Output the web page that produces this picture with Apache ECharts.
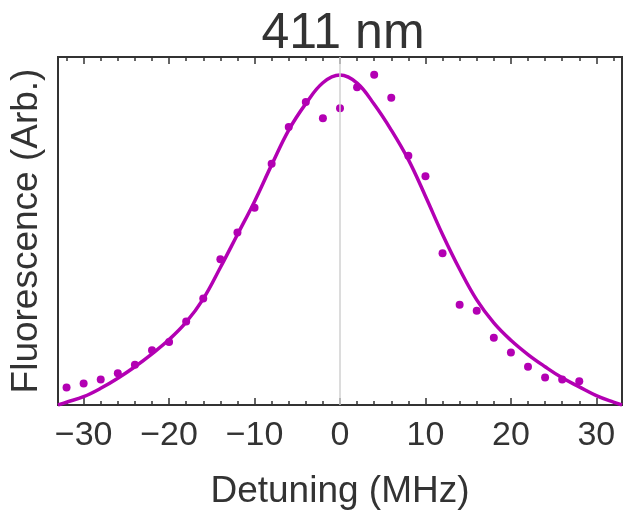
<!DOCTYPE html>
<html>
<head>
<meta charset="utf-8">
<script src="https://cdn.jsdelivr.net/npm/echarts@6/dist/echarts.min.js"></script>
<style>
html,body{margin:0;padding:0;background:#fff;}
#main{width:625px;height:515px;}
</style>
</head>
<body>
<div id="main"></div>
<script>
// measured points, detuning in MHz, fluorescence in arb. units
var detuning=[-32,-30,-28,-26,-24,-22,-20,-18,-16,-14,-12,-10,-8,-6,-4,-2,0,2,4,6,8,10,12,14,16,18,20,22,24,26,28];
var fluor=[0.050,0.062,0.073,0.091,0.116,0.157,0.181,0.240,0.306,0.419,0.496,0.567,0.693,0.799,0.871,0.824,0.853,0.913,0.949,0.883,0.716,0.657,0.436,0.288,0.271,0.193,0.151,0.110,0.079,0.073,0.068];

// fitted curve
var fitX=[-33,-32,-30,-28,-26,-24,-22,-20,-18,-16,-14,-12,-10,-8,-6,-4,-2,0,2,4,6,8,10,12,14,16,18,20,22,24,26,28,30,32,33];
var fitY=[0,0.008,0.024,0.048,0.077,0.110,0.147,0.188,0.238,0.305,0.395,0.490,0.585,0.690,0.790,0.866,0.926,0.948,0.925,0.864,0.790,0.705,0.600,0.490,0.390,0.302,0.236,0.186,0.145,0.110,0.078,0.052,0.027,0.008,0];

var majorTicks=[-30,-20,-10,0,10,20,30];
var minorTicks=[-32,-28,-26,-24,-22,-18,-16,-14,-12,-8,-6,-4,-2,2,4,6,8,12,14,16,18,22,24,26,28,32];

var FONT="'Liberation Sans', Arial, sans-serif";
var INK='#333333';
var PURPLE='#b300b3';

var chart=echarts.init(document.getElementById('main'));

function tickAxis(pos, vals, len, labels){
    return {
        type:'value', position:pos, min:-33, max:33,
        axisLine:{show:false},
        splitLine:{show:false},
        axisTick:{show:true, inside:true, length:len, customValues:vals, lineStyle:{color:INK,width:1.5}},
        axisLabel:labels ? {
            show:true, customValues:majorTicks, margin:14,
            fontFamily:FONT, fontSize:34, color:INK,
            formatter:function(v){return String(v).replace('-','\u2212');}
        } : {show:false},
        name:labels ? 'Detuning (MHz)' : '',
        nameLocation:'middle', nameGap:68,
        nameTextStyle:{fontFamily:FONT, fontSize:37, color:INK}
    };
}

var pts=detuning.map(function(x,i){return [x,fluor[i]];});
var fit=fitX.map(function(x,i){return [x,fitY[i]];});

chart.setOption({
    animation:false,
    title:{
        text:'411 nm', left:338, top:4, textAlign:'center',
        textStyle:{fontFamily:FONT, fontSize:50, fontWeight:'normal', color:INK}
    },
    grid:{left:56, right:3, top:57, bottom:108, show:true, borderColor:INK, borderWidth:2},
    xAxis:[
        tickAxis('bottom', majorTicks, 7, true),
        tickAxis('bottom', minorTicks, 4, false),
        tickAxis('top', majorTicks, 7, false),
        tickAxis('top', minorTicks, 4, false)
    ],
    yAxis:{
        type:'value', min:0, max:1,
        axisLine:{show:false}, axisTick:{show:false}, axisLabel:{show:false}, splitLine:{show:false},
        name:'Fluorescence (Arb.)', nameLocation:'middle', nameGap:13, nameRotate:90,
        nameTextStyle:{fontFamily:FONT, fontSize:37, color:INK}
    },
    series:[
        {
            type:'line', data:fit, smooth:0.4, showSymbol:false,
            lineStyle:{color:PURPLE, width:3.5}, z:3,
            markLine:{
                silent:true, symbol:['none','none'], label:{show:false},
                lineStyle:{color:'#d0d0d0', width:1.5, type:'solid'},
                data:[{xAxis:0}]
            }
        },
        {
            type:'scatter', data:pts, symbolSize:8,
            itemStyle:{color:PURPLE, opacity:1}, z:4
        }
    ]
});
</script>
</body>
</html>
